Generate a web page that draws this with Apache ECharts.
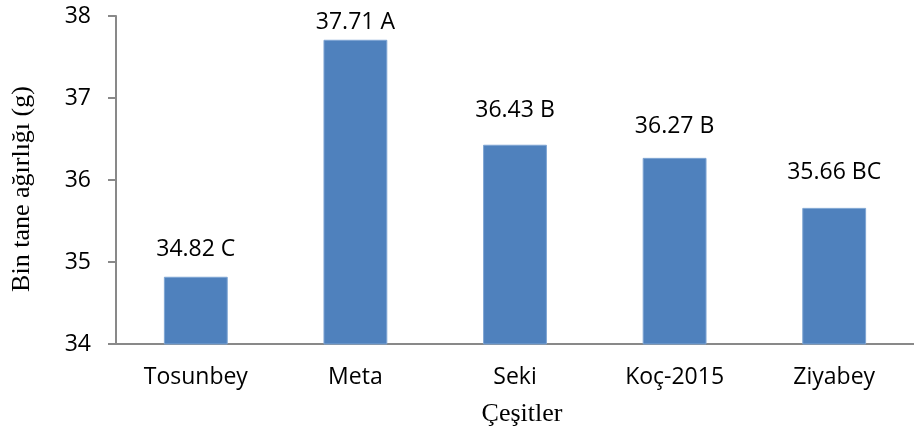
<!DOCTYPE html>
<html>
<head>
<meta charset="utf-8">
<script src="https://cdn.jsdelivr.net/npm/echarts@6/dist/echarts.min.js"></script>
<style>html,body{margin:0;padding:0;background:#fff;}#c{width:914px;height:432px;}</style>
</head>
<body>
<div id="c"></div>
<script>
const categories = ['Tosunbey', 'Meta', 'Seki', 'Koç-2015', 'Ziyabey'];
const values = [34.82, 37.71, 36.43, 36.27, 35.66];
const groups = ['C', 'A', 'B', 'B', 'BC'];
const yTicks = [34, 35, 36, 37, 38];
const yTitle = 'Bin tane ağırlığı (g)';
const xTitle = 'Çeşitler';
const labelDistance = [16, 6, 23, 20, 24];

const chart = echarts.init(document.getElementById('c'), null, {renderer: 'canvas'});
const FONT = '"Open Sans", sans-serif';
const SERIF = '"Liberation Serif", "Times New Roman", serif';
chart.setOption({
  animation: false,
  backgroundColor: '#ffffff',
  grid: {left: 116, top: 16, width: 806, height: 328, containLabel: false},
  xAxis: {
    type: 'category',
    data: categories,
    axisTick: {show: false},
    axisLine: {lineStyle: {color: '#898989', width: 2}},
    axisLabel: {color: '#000', fontFamily: FONT, fontSize: 23, margin: 22, interval: 0}
  },
  yAxis: {
    type: 'value',
    min: yTicks[0],
    max: yTicks[yTicks.length - 1],
    interval: 1,
    splitLine: {show: false},
    axisLine: {show: true, lineStyle: {color: '#898989', width: 2}},
    axisTick: {show: true, inside: false, length: 8, lineStyle: {color: '#898989', width: 2}},
    axisLabel: {color: '#000', fontFamily: FONT, fontSize: 23, margin: 25}
  },
  series: [{
    type: 'bar',
    barWidth: '40%',
    data: values.map((v, i) => ({
      value: v,
      label: {distance: labelDistance[i]}
    })),
    itemStyle: {color: '#4F81BD', borderColor: '#7FA5D3', borderWidth: 1},
    label: {
      show: true,
      position: 'top',
      color: '#000',
      fontFamily: FONT,
      fontSize: 23,
      formatter: p => values[p.dataIndex].toFixed(2) + ' ' + groups[p.dataIndex]
    }
  }],
  graphic: [
    {type: 'text', x: 22, y: 189, rotation: Math.PI / 2,
     style: {text: yTitle, font: '26px ' + SERIF, fill: '#000', align: 'center', verticalAlign: 'middle'}},
    {type: 'text', x: 522, y: 414,
     style: {text: xTitle, font: '26px ' + SERIF, fill: '#000', align: 'center', verticalAlign: 'middle'}}
  ]
});
</script>
</body>
</html>
